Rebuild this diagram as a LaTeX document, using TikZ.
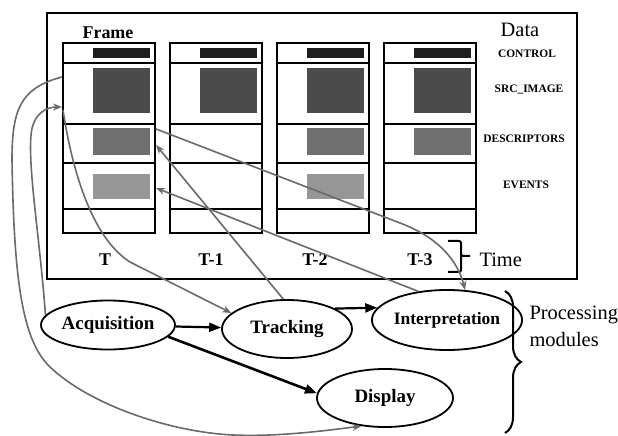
\documentclass[tikz,border=0pt]{standalone}
\usepackage{fontspec}
\setmainfont{Liberation Serif}
\usetikzlibrary{arrows.meta,shapes.geometric,decorations.pathreplacing}
\definecolor{ctrlc}{HTML}{1E1E1E}
\definecolor{srcc}{HTML}{4B4B4B}
\definecolor{descc}{HTML}{707070}
\definecolor{evc}{HTML}{969696}
\definecolor{agray}{HTML}{6A6A6A}
\begin{document}
\begin{tikzpicture}[x=1bp,y=-1bp,
  module/.style={ellipse, draw, line width=1.8bp, inner sep=0pt, font=\bfseries\fontsize{19}{21}\selectfont},
  colbox/.style={draw, line width=1.3bp, minimum width=92bp, minimum height=190bp, inner sep=0pt},
  rowline/.style={line width=1.1bp},
  midline/.style={line width=1.8bp},
  lbl/.style={font=\bfseries\fontsize{11.5}{13}\selectfont},
  big/.style={font=\bfseries\fontsize{18}{20}\selectfont},
  plain/.style={font=\fontsize{20.5}{22}\selectfont},
  garrow/.style={draw=agray, line width=1.6bp, -{Stealth[length=9bp,width=7bp]}},
  barrow/.style={line width=2.2bp, -{Triangle[length=12bp,width=9bp]}}
]
\useasboundingbox (0,0) rectangle (618,436);
\fill[white] (0,0) rectangle (618,436);
% outer data box
\draw[line width=2bp] (47,13) rectangle (577,279);
% columns
\foreach \i/\x in {1/63,2/170,3/277,4/384}{
  \node[colbox] (c\i) at (\x+46,138) {};
  \draw[rowline] (\x,63) -- ++(92,0);
  \draw[rowline] (\x,124) -- ++(92,0);
  \draw[midline] (\x,163) -- ++(92,0);
  \draw[rowline] (\x,209) -- ++(92,0);
  \fill[ctrlc] (\x+30,48) rectangle (\x+87,58);
  \fill[srcc] (\x+30,68) rectangle (\x+87,113);
}
\foreach \x in {63,277,384}{
  \fill[descc] (\x+30,128) rectangle (\x+87,155);
}
\foreach \x in {63,277}{
  \fill[evc] (\x+30,174) rectangle (\x+87,199);
}
% labels
\node[big] (frame) at (108,33) {Frame};
\node[plain] (data) at (520,30) {Data};
\node[lbl] (lctrl) at (527,54) {CONTROL};
\node[lbl] (lsrc) at (529,90) {SRC\_IMAGE};
\node[lbl] (ldesc) at (524,139) {DESCRIPTORS};
\node[lbl] (lev) at (526,185) {EVENTS};
\node[big] (t0) at (105,260) {T};
\node[big] (t1) at (211,260) {T-1};
\node[big] (t2) at (315,260) {T-2};
\node[big] (t3) at (420,260) {T-3};
\node[plain, anchor=west] (time) at (476,260) {Time};
\node[plain, anchor=west] (proc) at (526,315) {Processing};
\node[plain, anchor=west] (mods) at (526,340) {modules};
% time brace
\draw[line width=2bp, rounded corners=2bp] (448,241) -| (461,256) -- (470,256);
\draw[line width=2bp, rounded corners=2bp] (461,255) |- (448,272);
% processing brace
\draw[line width=2bp, decorate, decoration={brace, amplitude=16bp, aspect=0.5}] (505,291) -- (505,433);
% modules
\node[module, minimum width=134bp, minimum height=49bp] (acq) at (108,325) {Acquisition};
\node[module, minimum width=130bp, minimum height=58bp] (trk) at (287,329) {Tracking};
\node[module, minimum width=140bp, minimum height=60bp, font=\bfseries\fontsize{17.5}{19}\selectfont] (intp) at (447,320) {Interpretation};
\node[module, minimum width=136bp, minimum height=58bp] (disp) at (385,398) {Display};
% anchor points on frame T
\coordinate (fa) at (62,77);
\coordinate (fb) at (62,107);
\coordinate (fc) at (63,110);
\coordinate (fd) at (156,145);
\coordinate (fe) at (156,188);
\coordinate (ff) at (156,129);
% black arrows
\draw[barrow] (acq) -- (trk);
\draw[barrow, line width=2.6bp] (acq.-11) -- (disp.176);
\draw[barrow] (trk.23) -- (intp.170);
% gray arrows
\draw[garrow] (fa) .. controls (20,88) and (12,110) .. (12,160)
  .. controls (14,280) and (22,340) .. (50,367)
  .. controls (90,405) and (170,432) .. (233,435)
  .. controls (280,437) and (330,430) .. (disp.230);
\draw[garrow] (acq.171) .. controls (40,240) and (28,170) .. (31,135)
  .. controls (33,112) and (48,107) .. (fb);
\draw[garrow] (fc) .. controls (72,170) and (92,238) .. (130,262) -- (trk.164);
\draw[garrow] (trk.97) -- (fd);
\draw[garrow] (intp.135) -- (fe);
\draw[garrow] (ff) -- (400,223) .. controls (440,238) and (458,262) .. (intp.59);
\end{tikzpicture}
\end{document}
